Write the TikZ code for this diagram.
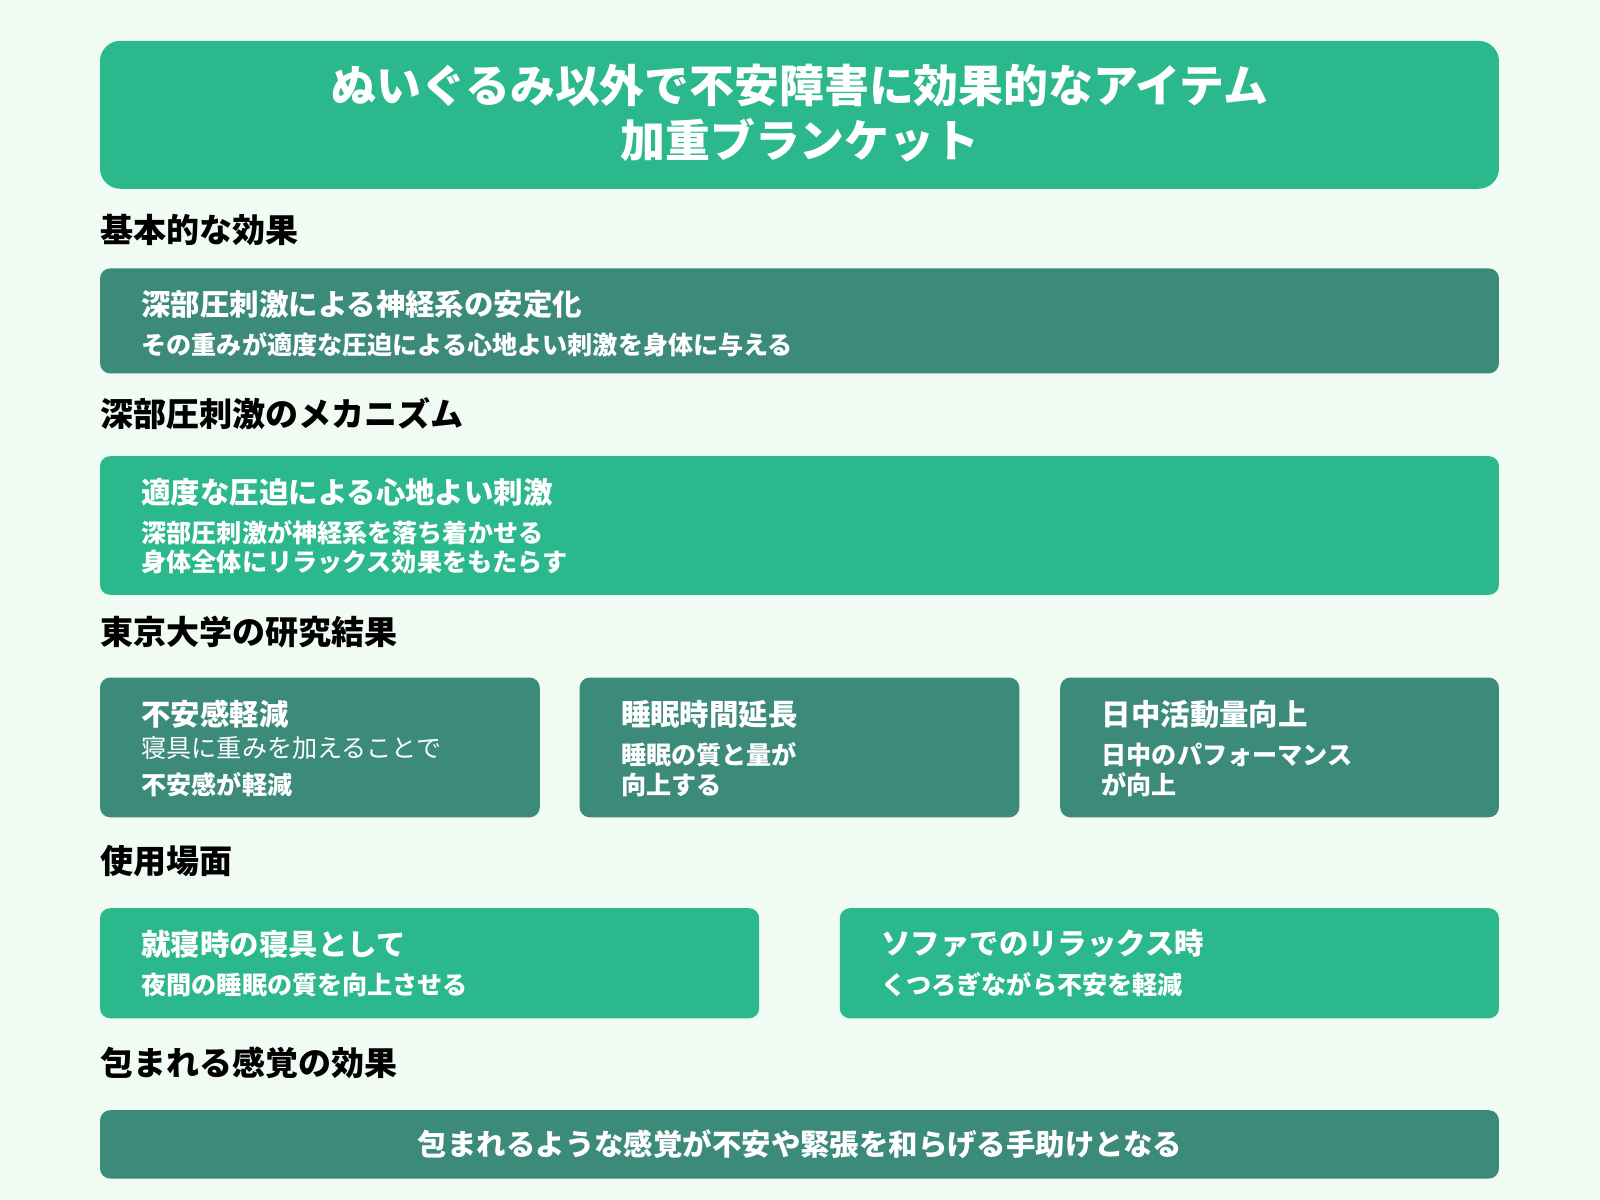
\documentclass[tikz,border=0pt]{standalone}
\usepackage{fontspec}
\setmainfont{Noto Sans CJK JP}
\definecolor{bgc}{HTML}{F0FCF3}
\definecolor{mint}{HTML}{2BB88C}
\definecolor{teal}{HTML}{3C8A7A}
\begin{document}
\begin{tikzpicture}[x=0.01cm, y=-0.01cm,
    panel/.style = {rounded corners=0.1cm, draw=none},
    head/.style = {anchor=west, inner sep=0pt, font=\fontsize{9.2}{10}\selectfont\bfseries},
    ttl/.style = {anchor=west, inner sep=0pt, text=white, font=\fontsize{8.2}{9}\selectfont\bfseries},
    sub/.style = {anchor=west, inner sep=0pt, text=white, font=\fontsize{7}{8.2}\selectfont\bfseries}]
    \fill[bgc] (0,0) rectangle (1568,1176);
    \useasboundingbox (0,0) rectangle (1568,1176);

    % title
    \fill[panel, mint, rounded corners=0.2cm] (98,40) rectangle (1469,185);
    \node[text=white, align=center, font=\fontsize{12.5}{15.5}\selectfont\bfseries] (title) at (784,111)
        {ぬいぐるみ以外で不安障害に効果的なアイテム\\加重ブランケット};

    % basic effect
    \node[head] (h1) at (98,225) {基本的な効果};
    \fill[panel, teal] (98,263) rectangle (1469,366);
    \node[ttl] (b1) at (138,298) {深部圧刺激による神経系の安定化};
    \node[sub] (b1s) at (138,338) {その重みが適度な圧迫による心地よい刺激を身体に与える};

    % mechanism
    \node[head] (h2) at (98,405) {深部圧刺激のメカニズム};
    \fill[panel, mint] (98,447) rectangle (1469,583);
    \node[ttl] (b2) at (138,483) {適度な圧迫による心地よい刺激};
    \node[sub] (b2s) at (138,522) {深部圧刺激が神経系を落ち着かせる};
    \node[sub] (b2t) at (138,551) {身体全体にリラックス効果をもたらす};

    % research
    \node[head] (h3) at (98,619) {東京大学の研究結果};
    \foreach \xa/\xb in {98/529, 568/999, 1039/1469}
        \fill[panel, teal] (\xa,664) rectangle (\xb,801);
    \node[ttl] (r1) at (138,700) {不安感軽減};
    \node[sub, font=\fontsize{7}{8.2}\selectfont] (r1s) at (138,733) {寝具に重みを加えることで};
    \node[sub] (r1t) at (138,769) {不安感が軽減};
    \node[ttl] (r2) at (608,700) {睡眠時間延長};
    \node[sub] (r2s) at (608,740) {睡眠の質と量が};
    \node[sub] (r2t) at (608,769) {向上する};
    \node[ttl] (r3) at (1079,700) {日中活動量向上};
    \node[sub] (r3s) at (1079,740) {日中のパフォーマンス};
    \node[sub] (r3t) at (1079,769) {が向上};

    % usage
    \node[head] (h4) at (98,844) {使用場面};
    \fill[panel, mint] (98,890) rectangle (744,998);
    \fill[panel, mint] (823,890) rectangle (1469,998);
    \node[ttl] (u1) at (138,925) {就寝時の寝具として};
    \node[sub] (u1s) at (138,965) {夜間の睡眠の質を向上させる};
    \node[ttl] (u2) at (863,925) {ソファでのリラックス時};
    \node[sub] (u2s) at (863,965) {くつろぎながら不安を軽減};

    % wrapped feeling
    \node[head] (h5) at (98,1042) {包まれる感覚の効果};
    \fill[panel, teal] (98,1088) rectangle (1469,1155);
    \node[ttl, anchor=center] (w1) at (784,1121) {包まれるような感覚が不安や緊張を和らげる手助けとなる};
\end{tikzpicture}
\end{document}
